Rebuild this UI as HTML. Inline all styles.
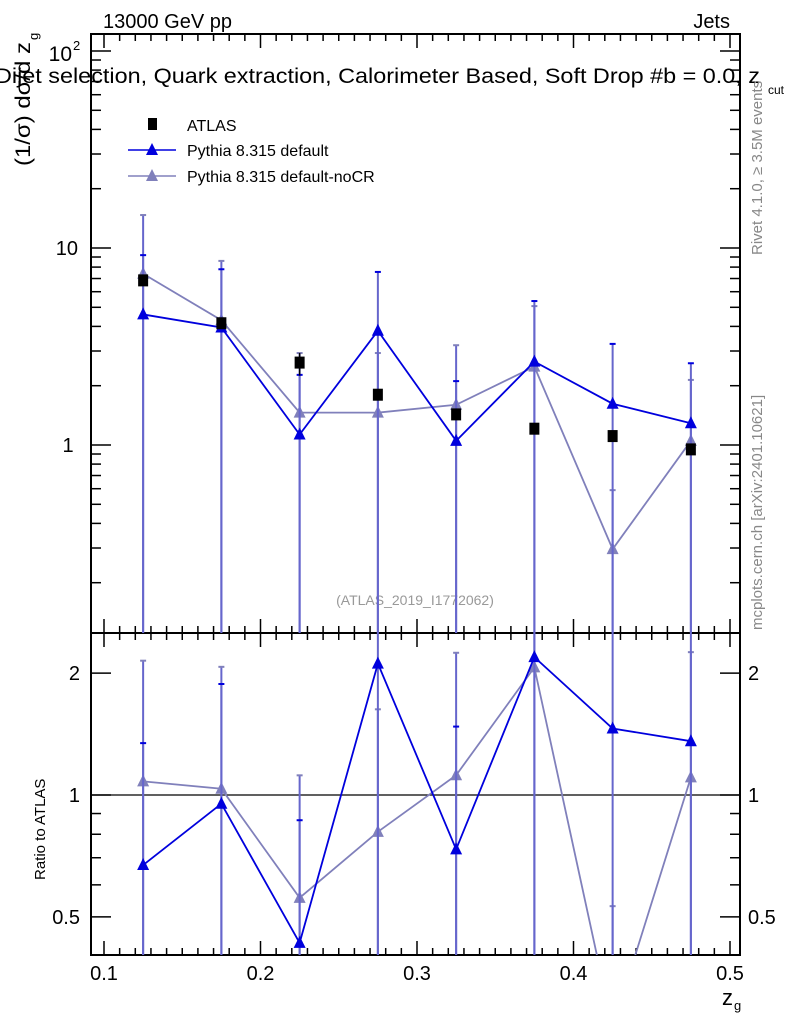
<!DOCTYPE html>
<html><head><meta charset="utf-8"><style>
html,body{margin:0;padding:0;background:#fff;width:786px;height:1024px;overflow:hidden}
text{font-family:"Liberation Sans",sans-serif}
</style></head><body>
<svg id="chart" width="786" height="1024" xmlns="http://www.w3.org/2000/svg">
<g id="g"></g>
</svg>
<script>
const xCenters=[0.125,0.175,0.225,0.275,0.325,0.375,0.425,0.475];
const atlasVals=[6.85,4.15,2.62,1.80,1.43,1.21,1.11,0.95];
const atlasUp=[7.0,4.3,2.93,1.85,1.47,1.24,1.14,0.98];
const atlasDn=[6.7,4.0,2.25,1.75,1.40,1.18,1.08,0.92];
const defVals=[4.6,3.95,1.13,3.8,1.05,2.65,1.62,1.29];
const defUp=[9.2,7.8,2.27,7.56,2.11,5.38,3.26,2.6];
const nocrVals=[7.4,4.3,1.46,1.46,1.60,2.50,0.296,1.05];
const nocrUp=[14.7,8.6,2.93,2.93,3.21,5.07,0.59,2.14];
const xTickLabels=["0.1","0.2","0.3","0.4","0.5"];
const xTickVals=[0.1,0.2,0.3,0.4,0.5];

const NS="http://www.w3.org/2000/svg";
const G=document.getElementById('g');
const L=91,R=740,T=34,MB=633,RB=955;
function X(v){return 104+(v-0.1)*1565;}
function Y(v){return 445-197*Math.log10(v);}
function YR(v){return 795-405*Math.log10(v);}
function mk(tag,at,parent){const e=document.createElementNS(NS,tag);for(const k in at)e.setAttribute(k,at[k]);(parent||G).appendChild(e);return e;}
function txt(s,x,y,size,at){const e=mk('text',Object.assign({x:x,y:y,'font-size':size},at||{}));e.textContent=s;return e;}

const defs=mk('defs',{});
const c1=mk('clipPath',{id:'cm'},defs);mk('rect',{x:L,y:T,width:R-L,height:MB-T},c1);
const c2=mk('clipPath',{id:'cr'},defs);mk('rect',{x:L,y:MB,width:R-L,height:RB-MB},c2);

let e;
e=mk('rect',{x:L,y:T,width:R-L,height:MB-T,fill:'none',stroke:'#000','stroke-width':2});

e=mk('rect',{x:L,y:MB,width:R-L,height:RB-MB,fill:'none',stroke:'#000','stroke-width':2});


for(let i=0;i<=41;i++){const v=0.09+i*0.01;if(v<0.0917||v>0.5064)continue;const x=X(v);
 const maj=Math.abs(v*10-Math.round(v*10))<1e-6;const len=maj?14:7;
 for(const [yb,yt] of [[MB,T],[RB,MB]]){mk('line',{x1:x,x2:x,y1:yb,y2:yb-len,stroke:'#000','stroke-width':1.5});mk('line',{x1:x,x2:x,y1:yt,y2:yt+len,stroke:'#000','stroke-width':1.5});}}
xTickVals.forEach((v,i)=>{e=txt(xTickLabels[i],X(v),980,20,{'text-anchor':'middle'});
 });
for(let d=-1;d<=2;d++)for(let m=1;m<=9;m++){const v=m*Math.pow(10,d);const y=Y(v);if(y<T||y>MB)continue;const len=m==1?20:10;
 mk('line',{x1:L,x2:L+len,y1:y,y2:y,stroke:'#000','stroke-width':1.5});mk('line',{x1:R,x2:R-len,y1:y,y2:y,stroke:'#000','stroke-width':1.5});}
e=txt('1',68,452,20,{'text-anchor':'middle'});
e=txt('10',78,255,20,{'text-anchor':'end'});
e=txt('10',72,61,21,{'text-anchor':'end'});
txt('2',73,50,13);
[0.4,0.5,0.6,0.7,0.8,0.9,1,2].forEach(v=>{const y=YR(v);if(y<MB||y>RB)return;const len=(v==0.5||v==1||v==2)?20:10;
 mk('line',{x1:L,x2:L+len,y1:y,y2:y,stroke:'#000','stroke-width':1.5});mk('line',{x1:R,x2:R-len,y1:y,y2:y,stroke:'#000','stroke-width':1.5});});
[[0.5,'0.5'],[1,'1'],[2,'2']].forEach(([v,s])=>{
 e=txt(s,80,YR(v)+7,20,{'text-anchor':'end'});
 e=txt(s,748,YR(v)+7,20);});
mk('line',{x1:L,x2:R,y1:YR(1),y2:YR(1),stroke:'#000','stroke-width':1.3});

e=txt('13000 GeV pp',103,28,20);
e=txt('Jets',730,28,20,{'text-anchor':'end'});
e=txt('Dijet selection, Quark extraction, Calorimeter Based, Soft Drop #b = 0.0, z',-5,83,21,{textLength:765,lengthAdjust:'spacingAndGlyphs'});
txt('cut',768,94,12);
e=txt('(1/σ) dσ/d z',30,166,21,{transform:'rotate(-90 30 166)',textLength:124,lengthAdjust:'spacingAndGlyphs'});
txt('g',38,40,13,{transform:'rotate(-90 38 40)'});
e=txt('Ratio to ATLAS',45,880,15,{transform:'rotate(-90 45 880)'});
e=txt('z',722,1005,22);
txt('g',734,1010,13);
e=txt('(ATLAS_2019_I1772062)',415,605,14,{'text-anchor':'middle',fill:'#999'});
e=txt('Rivet 4.1.0, ≥ 3.5M events',762,255,15,{fill:'#888',transform:'rotate(-90 762 255)'});
e=txt('mcplots.cern.ch [arXiv:2401.10621]',762,630,15,{fill:'#888',transform:'rotate(-90 762 630)'});

e=mk('rect',{x:148,y:118,width:9,height:12,fill:'#000'});
e=txt('ATLAS',187,131,16);
function tri(x,y,c,p){return mk('path',{d:`M${x-6},${y+5}L${x+6},${y+5}L${x},${y-7}Z`,fill:c},p);}
mk('line',{x1:128,x2:176,y1:150,y2:150,stroke:'#0000dd','stroke-width':1.5});tri(152,150,'#0000dd');
e=txt('Pythia 8.315 default',187,156,16);
mk('line',{x1:128,x2:176,y1:176,y2:176,stroke:'#8080bb','stroke-width':1.5});tri(152,176,'#8080bb');
e=txt('Pythia 8.315 default-noCR',187,182,16);

function series(vals,up,col,name,ratio){
 const gm=mk('g',{'clip-path':ratio?'url(#cr)':'url(#cm)'});
 
 const f=ratio?(i,v)=>YR(v/atlasVals[i]):(i,v)=>Y(v);
 const bot=ratio?RB+5:MB+5;
 vals.forEach((v,i)=>{const x=X(xCenters[i]);const yu=f(i,up[i]);
  mk('line',{x1:x,x2:x,y1:yu,y2:bot,stroke:'#6666cc','stroke-width':2},gm);
  mk('line',{x1:x-3,x2:x+3,y1:yu,y2:yu,stroke:col,'stroke-width':2},gm);});
 mk('polyline',{points:vals.map((v,i)=>X(xCenters[i])+','+f(i,v)).join(' '),fill:'none',stroke:col,'stroke-width':1.8},gm);
 vals.forEach((v,i)=>{const t=tri(X(xCenters[i]),f(i,v),col,gm);
  });
}
series(nocrVals,nocrUp,'#8080bb','nocr-series',false);
series(defVals,defUp,'#0000dd','default-series',false);
series(nocrVals,nocrUp,'#8080bb','nocr-ratio',true);
series(defVals,defUp,'#0000dd','default-ratio',true);
const ga=mk('g',{});
atlasVals.forEach((v,i)=>{const x=X(xCenters[i]);
 mk('line',{x1:x,x2:x,y1:Y(atlasUp[i]),y2:Y(atlasDn[i]),stroke:'#000','stroke-width':1.5},ga);
 const r=mk('rect',{x:x-5,y:Y(v)-6,width:10,height:12,fill:'#000'},ga);
 });
</script>
</body></html>
